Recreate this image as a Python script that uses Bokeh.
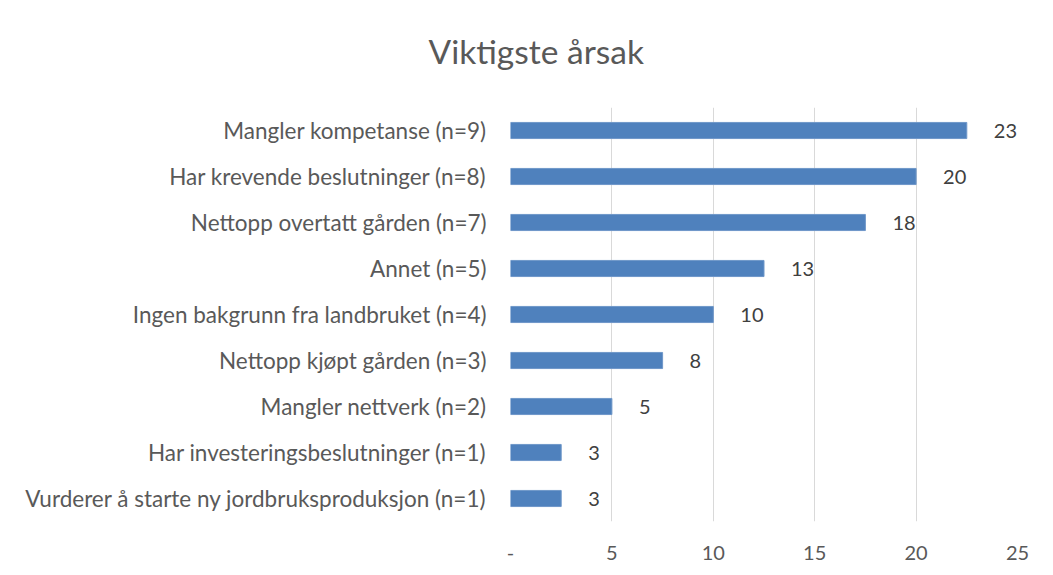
from bokeh.plotting import figure
from bokeh.models import ColumnDataSource, FactorRange, FixedTicker, Range1d, Title, LinearAxis
from bokeh.core.properties import value
from bokeh.embed import file_html
from bokeh.resources import INLINE

title_text = "Viktigste årsak"
categories = [
    "Mangler kompetanse (n=9)",
    "Har krevende beslutninger (n=8)",
    "Nettopp overtatt gården (n=7)",
    "Annet (n=5)",
    "Ingen bakgrunn fra landbruket (n=4)",
    "Nettopp kjøpt gården (n=3)",
    "Mangler nettverk (n=2)",
    "Har investeringsbeslutninger (n=1)",
    "Vurderer å starte ny jordbruksproduksjon (n=1)",
]
values = [22.5, 20.0, 17.5, 12.5, 10.0, 7.5, 5.0, 2.5, 2.5]
value_labels = ["23", "20", "18", "13", "10", "8", "5", "3", "3"]
x_ticks = [0, 5, 10, 15, 20, 25]
x_tick_labels = ["-", "5", "10", "15", "20", "25"]

FONT = "Lato"
TXT = "#595959"

src = ColumnDataSource(dict(cat=categories, val=values, lab=value_labels))

p = figure(
    width=1045, height=567,
    y_range=FactorRange(factors=list(reversed(categories)), range_padding=0),
    x_range=Range1d(0, 25),
    output_backend="svg", toolbar_location=None,
    min_border_left=510, min_border_right=28,
    min_border_top=107, min_border_bottom=46,
)
p.outline_line_color = None
p.background_fill_color = "white"
p.border_fill_color = "white"

xticker = FixedTicker(ticks=x_ticks)
bottom_axis = p.below[0]
bottom_axis.ticker = xticker
bottom_axis.major_label_overrides = {t: l for t, l in zip(x_ticks, x_tick_labels)}
bottom_axis.axis_line_color = None
bottom_axis.major_tick_line_color = None
bottom_axis.minor_tick_line_color = None
bottom_axis.major_label_standoff = 18
bottom_axis.major_label_text_font = FONT
bottom_axis.major_label_text_font_size = "20px"
bottom_axis.major_label_text_color = TXT
p.xgrid.ticker = xticker

# invisible spacer between plot area and title
spacer = LinearAxis(ticker=FixedTicker(ticks=[0]), axis_line_color=None,
                    major_tick_line_color=None, minor_tick_line_color=None,
                    major_tick_in=0, major_tick_out=32, minor_tick_out=0,
                    major_label_overrides={0: ""}, major_label_standoff=0,
                    major_label_text_font_size="1px")
p.add_layout(spacer, "above")

title = Title(text=title_text, align="left", offset=-82, vertical_align="bottom",
              text_font=FONT, text_font_size="33.5px", text_font_style="normal",
              text_color=TXT)
p.add_layout(title, "above")

p.hbar(y="cat", right="val", left=0, height=0.35, source=src,
       fill_color="#4f81bd", line_color="#6f97c9", line_width=1)

p.text(x="val", y="cat", text="lab", source=src, x_offset=27,
       text_baseline="middle", text_align="left",
       text_font=value(FONT), text_font_size="20px", text_color="#404040")

p.yaxis.axis_line_color = None
p.yaxis.major_tick_line_color = None
p.yaxis.minor_tick_line_color = None
p.yaxis.major_label_standoff = 18
p.yaxis.major_label_text_font = FONT
p.yaxis.major_label_text_font_size = "22.5px"
p.yaxis.major_label_text_color = TXT

p.xgrid.grid_line_color = "#d9d9d9"
p.xgrid.grid_line_width = 1
p.ygrid.grid_line_color = None

open("out.html", "w").write(file_html(p, INLINE))
